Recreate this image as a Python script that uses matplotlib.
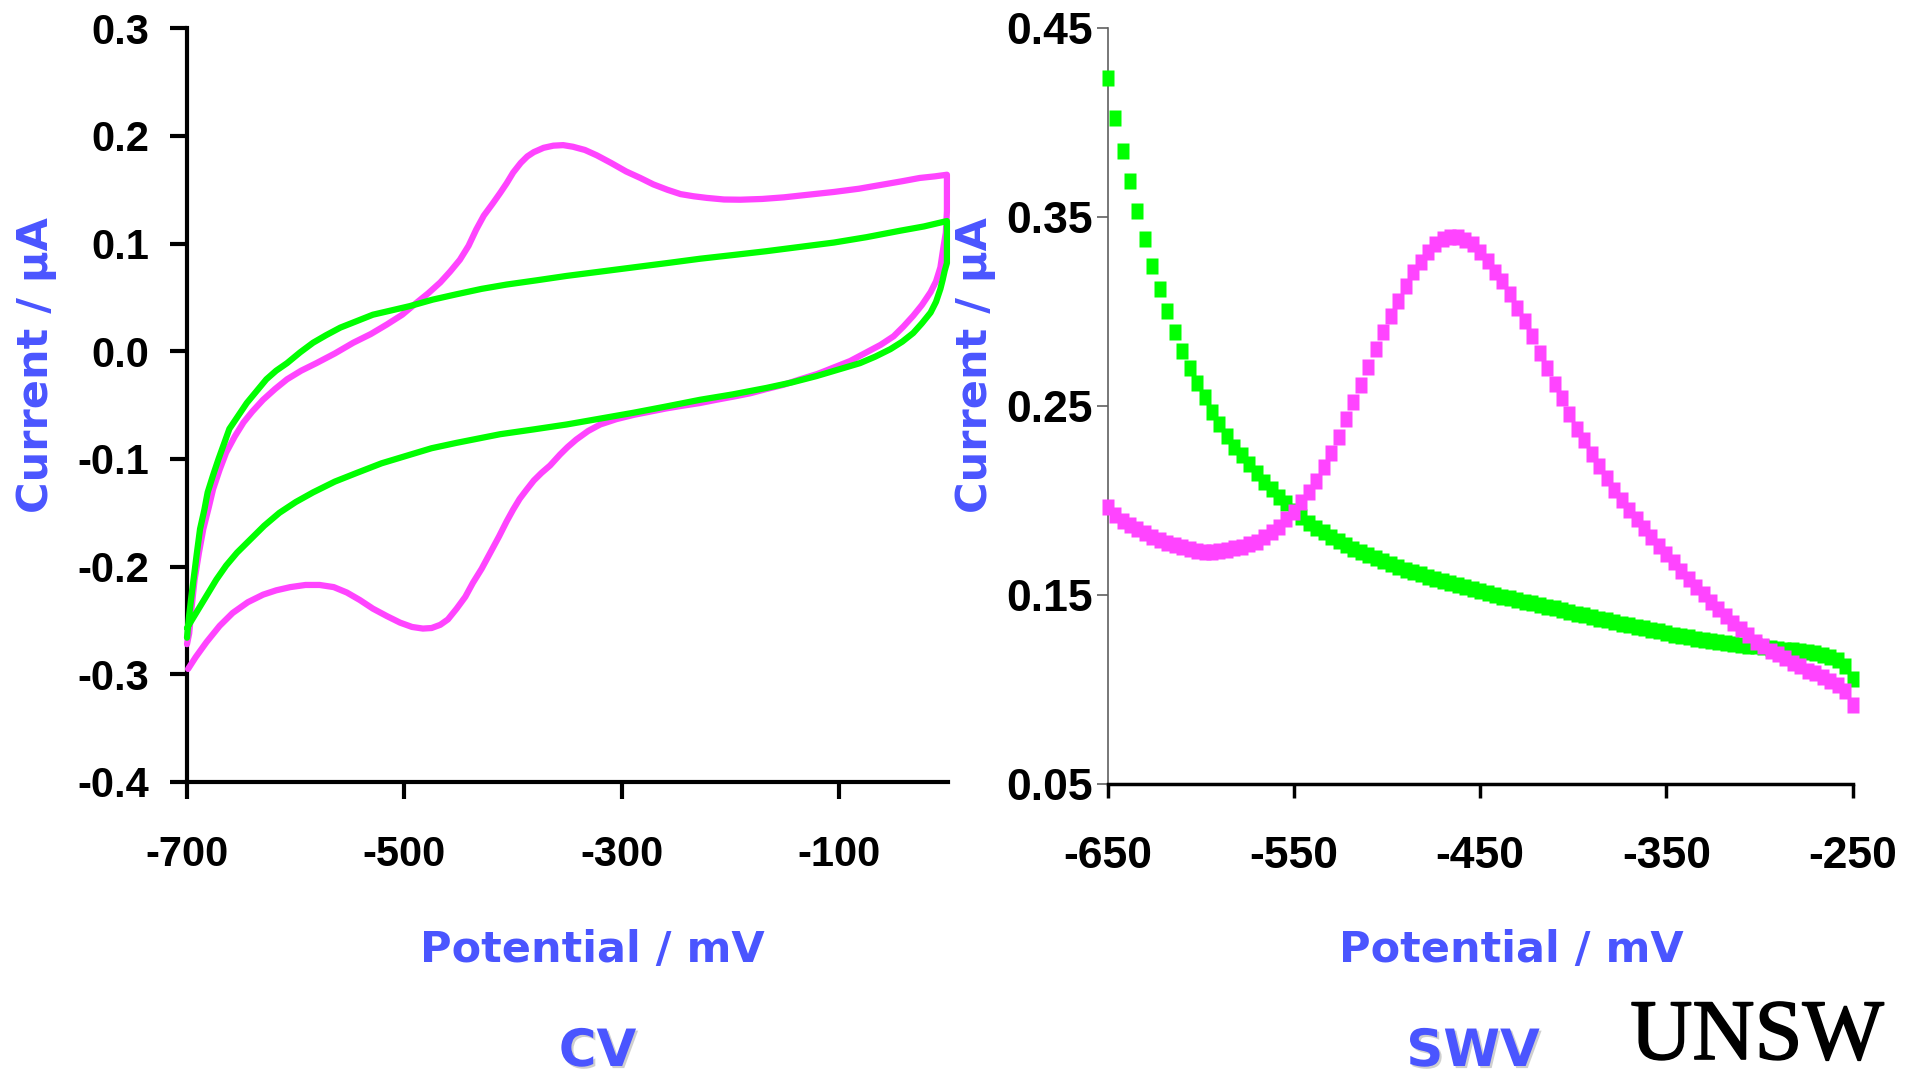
import matplotlib
matplotlib.use("Agg")
import matplotlib.pyplot as plt
import matplotlib.patheffects as pe
from matplotlib.font_manager import FontProperties

plt.rcParams["axes.unicode_minus"] = False

# ---------------- data ----------------
# CV (potential in mV, current in uA), traced along the sweep
cv_mag_E = [-700, -698, -696, -693, -689, -685, -680, -676, -670, -664, -656, -648, -640, -630,
            -619, -608, -595, -581, -564, -547, -531, -516, -502, -489, -478, -467, -458, -449,
            -441, -434, -427, -419, -412, -406, -400, -393, -387, -381, -372, -363, -354, -345,
            -334, -323, -310, -296, -283, -271, -258, -246, -234, -222, -206, -191, -171, -151,
            -128, -105, -82, -59, -42, -26, -12, -1,
            -1, -2, -4, -7, -11, -16, -24, -32, -41, -50, -62, -75, -90, -105, -120, -136, -151,
            -167, -182, -197, -213, -228, -244, -259, -274, -289, -305, -320, -331, -342, -350,
            -357, -366, -374, -381, -388, -394, -400, -406, -413, -421, -429, -437, -444, -452,
            -460, -467, -475, -483, -493, -504, -516, -529, -541, -553, -565, -578, -591, -605,
            -618, -630, -644, -658, -670, -682, -692, -699]
cv_mag_I = [-0.272, -0.262, -0.240, -0.212, -0.187, -0.165, -0.145, -0.128, -0.110, -0.094,
            -0.079, -0.066, -0.056, -0.045, -0.035, -0.026, -0.018, -0.011, -0.002, 0.008,
            0.016, 0.025, 0.034, 0.045, 0.054, 0.064, 0.074, 0.085, 0.098, 0.113, 0.126, 0.137,
            0.147, 0.156, 0.166, 0.175, 0.181, 0.185, 0.189, 0.191, 0.1915, 0.190, 0.187, 0.182,
            0.175, 0.167, 0.161, 0.155, 0.150, 0.146, 0.144, 0.1425, 0.141, 0.1408, 0.1415,
            0.143, 0.1455, 0.148, 0.151, 0.155, 0.158, 0.161, 0.1625, 0.164,
            0.130, 0.110, 0.098, 0.078, 0.065, 0.055, 0.043, 0.033, 0.023, 0.014, 0.006, -0.001,
            -0.009, -0.015, -0.021, -0.026, -0.031, -0.035, -0.039, -0.042, -0.045, -0.048,
            -0.0505, -0.053, -0.056, -0.059, -0.063, -0.068, -0.074, -0.082, -0.089, -0.096,
            -0.106, -0.113, -0.120, -0.129, -0.137, -0.147, -0.158, -0.172, -0.187, -0.202,
            -0.215, -0.228, -0.239, -0.249, -0.254, -0.257, -0.2575, -0.256, -0.252, -0.246,
            -0.239, -0.231, -0.224, -0.219, -0.217, -0.217, -0.219, -0.222, -0.226, -0.233,
            -0.243, -0.255, -0.270, -0.284, -0.295]

cv_grn_E = [-700, -699, -698, -696, -694, -691, -688, -684, -681, -676, -671, -666, -661, -653,
            -645, -636, -627, -618, -608, -596, -584, -572, -559, -544, -529, -512, -495, -474,
            -452, -429, -406, -378, -351, -320, -289, -258, -228, -197, -167, -136, -105, -75,
            -44, -22, -1,
            -1, -3, -5, -7, -11, -16, -24, -32, -42, -53, -67, -81, -101, -121, -144, -167, -198,
            -228, -258, -289, -320, -351, -381, -412, -452, -475, -498, -521, -544, -564, -584,
            -600, -615, -629, -642, -654, -664, -673, -682, -691, -700]
cv_grn_I = [-0.266, -0.255, -0.245, -0.228, -0.212, -0.188, -0.165, -0.147, -0.131, -0.115,
            -0.100, -0.086, -0.072, -0.060, -0.048, -0.037, -0.026, -0.018, -0.011, -0.001,
            0.008, 0.015, 0.022, 0.028, 0.034, 0.038, 0.042, 0.048, 0.053, 0.058, 0.062, 0.066,
            0.070, 0.074, 0.078, 0.082, 0.086, 0.0895, 0.093, 0.097, 0.101, 0.106, 0.112, 0.116,
            0.121,
            0.082, 0.075, 0.066, 0.058, 0.046, 0.036, 0.026, 0.017, 0.009, 0.002, -0.005, -0.011,
            -0.017, -0.023, -0.029, -0.034, -0.040, -0.045, -0.051, -0.057, -0.0625, -0.068,
            -0.0725, -0.077, -0.085, -0.090, -0.097, -0.104, -0.113, -0.121, -0.131, -0.140,
            -0.150, -0.162, -0.175, -0.187, -0.199, -0.212, -0.227, -0.242, -0.257]

# SWV (potential in mV, current in uA)
swv_E = [-650, -646, -642, -638, -634, -630, -626, -622, -618, -614, -610, -606, -602, -598,
         -594, -590, -586, -582, -578, -574, -570, -566, -562, -558, -554, -550, -546, -542,
         -538, -534, -530, -526, -522, -518, -514, -510, -506, -502, -498, -494, -490, -486,
         -482, -478, -474, -470, -466, -462, -458, -454, -450, -446, -442, -438, -434, -430,
         -426, -422, -418, -414, -410, -406, -402, -398, -394, -390, -386, -382, -378, -374,
         -370, -366, -362, -358, -354, -350, -346, -342, -338, -334, -330, -326, -322, -318,
         -314, -310, -306, -302, -298, -294, -290, -286, -282, -278, -274, -270, -266, -262,
         -258, -254, -250]
swv_grn = [0.4235, 0.4024, 0.3849, 0.3690, 0.3532, 0.3382, 0.3241, 0.3117, 0.3001, 0.2890,
           0.2791, 0.2701, 0.2618, 0.2544, 0.2468, 0.2402, 0.2341, 0.2283, 0.2239, 0.2191,
           0.2142, 0.2098, 0.2058, 0.2019, 0.1984, 0.1944, 0.1912, 0.1882, 0.1855, 0.1830,
           0.1806, 0.1784, 0.1763, 0.1744, 0.1726, 0.1709, 0.1692, 0.1676, 0.1661, 0.1647,
           0.1633, 0.1620, 0.1607, 0.1595, 0.1583, 0.1572, 0.1561, 0.1550, 0.1540, 0.1530,
           0.1520, 0.1510, 0.1500, 0.1490, 0.1481, 0.1472, 0.1463, 0.1454, 0.1445, 0.1436,
           0.1427, 0.1418, 0.1409, 0.1400, 0.1391, 0.1382, 0.1373, 0.1364, 0.1355, 0.1346,
           0.1338, 0.1330, 0.1322, 0.1314, 0.1306, 0.1298, 0.1287, 0.1280, 0.1274, 0.1268,
           0.1262, 0.1256, 0.1250, 0.1245, 0.1240, 0.1235, 0.1230, 0.1226, 0.1222, 0.1218,
           0.1214, 0.1210, 0.1206, 0.1202, 0.1197, 0.1191, 0.1183, 0.1172, 0.1155, 0.1122,
           0.1056]
swv_mag = [0.1962, 0.1922, 0.1892, 0.1869, 0.1846, 0.1825, 0.1804, 0.1789, 0.1775, 0.1763,
           0.1754, 0.1742, 0.1733, 0.1728, 0.1728, 0.1731, 0.1737, 0.1745, 0.1754, 0.1767,
           0.1780, 0.1804, 0.1830, 0.1860, 0.1899, 0.1939, 0.1992, 0.2042, 0.2102, 0.2174,
           0.2248, 0.2336, 0.2428, 0.2518, 0.2610, 0.2706, 0.2800, 0.2890, 0.2975, 0.3056,
           0.3133, 0.3209, 0.3262, 0.3312, 0.3356, 0.3380, 0.3394, 0.3391, 0.3377, 0.3354,
           0.3315, 0.3267, 0.3209, 0.3159, 0.3093, 0.3017, 0.2946, 0.2867, 0.2781, 0.2700,
           0.2615, 0.2540, 0.2455, 0.2379, 0.2319, 0.2247, 0.2180, 0.2118, 0.2054, 0.2001,
           0.1950, 0.1901, 0.1853, 0.1803, 0.1759, 0.1717, 0.1674, 0.1627, 0.1585, 0.1542,
           0.1504, 0.1462, 0.1425, 0.1387, 0.1349, 0.1321, 0.1287, 0.1251, 0.1226, 0.1204,
           0.1185, 0.1164, 0.1141, 0.1122, 0.1098, 0.1085, 0.1066, 0.1045, 0.1020, 0.0990,
           0.0919]

cv_xticks = [-700, -500, -300, -100]
cv_yticks = [-0.4, -0.3, -0.2, -0.1, 0.0, 0.1, 0.2, 0.3]
swv_xticks = [-650, -550, -450, -350, -250]
swv_yticks = [0.05, 0.15, 0.25, 0.35, 0.45]

# ---------------- style ----------------
MAG = "#ff44ff"
GRN = "#00ff00"
BLUE = "#4a55ff"
W, H = 1930, 1076

fig = plt.figure(figsize=(W / 100, H / 100), dpi=100)
fig.patch.set_facecolor("white")

def fx(px):
    return px / W

def fy(py):
    return 1 - py / H

TICK_FAM = ["Liberation Sans", "DejaVu Sans"]
tick_font = FontProperties(family=TICK_FAM, weight="bold", size=30)
tick_font2 = FontProperties(family=TICK_FAM, weight="bold", size=32)

# ---- CV axes ----
ax1 = fig.add_axes([fx(187), fy(782), fx(948 - 187), (782 - 28.3) / H])
ax1.plot(cv_mag_E, cv_mag_I, color=MAG, lw=4.5, clip_on=False, solid_joinstyle="round",
         solid_capstyle="round", zorder=3)
ax1.plot(cv_grn_E, cv_grn_I, color=GRN, lw=4.5, clip_on=False, solid_joinstyle="round",
         solid_capstyle="round", zorder=4)
ax1.set_xlim(-700, 0)
ax1.set_ylim(-0.4, 0.3)
ax1.set_xticks(cv_xticks)
ax1.set_yticks(cv_yticks)
ax1.set_yticklabels([f"{v:.1f}" for v in cv_yticks])
for s in ["top", "right"]:
    ax1.spines[s].set_visible(False)
for s in ["left", "bottom"]:
    ax1.spines[s].set_linewidth(3)
    ax1.spines[s].set_color("black")
ax1.tick_params(axis="y", direction="out", length=12.5, width=3, pad=15, color="black")
ax1.tick_params(axis="x", direction="out", length=12.5, width=3, pad=26, color="black")
for lab in ax1.get_xticklabels() + ax1.get_yticklabels():
    lab.set_fontproperties(tick_font)

# ---- SWV axes ----
ax2 = fig.add_axes([fx(1107.7), fy(783.7), fx(1852.5 - 1107.7), (783.7 - 27.7) / H])
rect = [(-0.77, -1), (0.77, -1), (0.77, 1), (-0.77, 1), (-0.77, -1)]
ax2.plot(swv_E, swv_grn, ls="none", marker=rect, ms=11, mfc=GRN, mec="none",
         clip_on=False, zorder=3)
ax2.plot(swv_E, swv_mag, ls="none", marker=rect, ms=11, mfc=MAG, mec="none",
         clip_on=False, zorder=4)
ax2.set_xlim(-650, -250)
ax2.set_ylim(0.05, 0.45)
ax2.set_xticks(swv_xticks)
ax2.set_yticks(swv_yticks)
ax2.set_yticklabels([f"{v:.2f}" for v in swv_yticks])
for s in ["top", "right"]:
    ax2.spines[s].set_visible(False)
ax2.spines["left"].set_linewidth(1.2)
ax2.spines["left"].set_color("#606060")
ax2.spines["bottom"].set_linewidth(2.5)
ax2.spines["bottom"].set_color("black")
ax2.tick_params(axis="y", direction="out", length=8, width=1.2, pad=3, color="#606060")
ax2.tick_params(axis="x", direction="out", length=10, width=2.5, pad=28, color="black")
for lab in ax2.get_xticklabels() + ax2.get_yticklabels():
    lab.set_fontproperties(tick_font2)

# ---- axis titles ----
lab_kw = dict(color=BLUE, fontsize=31, fontweight="bold", family=["DejaVu Sans"])
fig.text(fx(36), fy(365), "Current / μA", rotation=90, ha="center", va="center", **lab_kw)
fig.text(fx(975), fy(365), "Current / μA", rotation=90, ha="center", va="center", **lab_kw)
fig.text(fx(592.5), fy(962), "Potential / mV", ha="center", va="baseline", **lab_kw)
fig.text(fx(1511.5), fy(962), "Potential / mV", ha="center", va="baseline", **lab_kw)

shadow = [pe.SimplePatchShadow(offset=(1.5, -1.5), shadow_rgbFace="#b0b0b0", alpha=0.6), pe.Normal()]
title_kw = dict(color=BLUE, fontsize=37, fontweight="bold", family=["DejaVu Sans"],
                ha="center", va="baseline", path_effects=shadow)
fig.text(fx(597.5), fy(1066), "CV", **title_kw)
fig.text(fx(1473), fy(1066), "SWV", **title_kw)

# ---- UNSW logo text ----
fig.text(fx(1757), fy(1059), "UNSW", ha="center", va="baseline", fontsize=62,
         family=["Liberation Serif", "DejaVu Serif"], color="black",
         path_effects=[pe.Stroke(linewidth=1.2, foreground="black"), pe.Normal()])

fig.savefig("out.png", dpi=100, facecolor="white")
